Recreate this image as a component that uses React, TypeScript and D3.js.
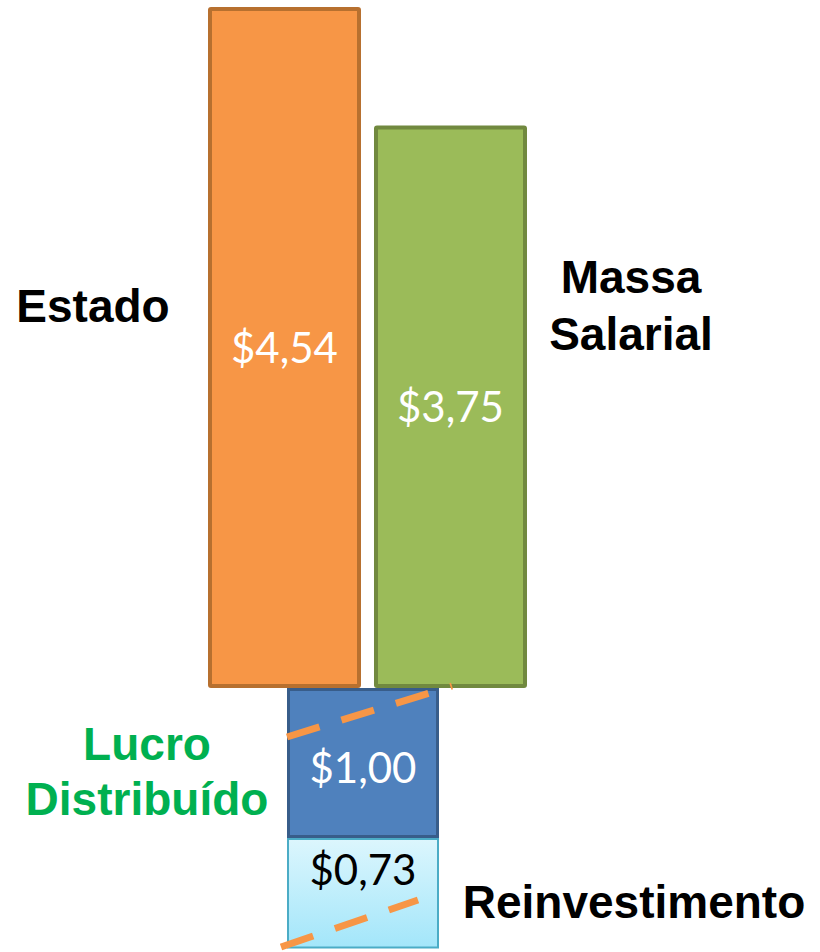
import React from "react";
import * as d3 from "d3";

// ---- data ----
const topCategories = ["Estado", "Massa Salarial"];
const topValues = [4.54, 3.75];
const topLabels = ["$4,54", "$3,75"];
const bottomCategories = ["Lucro Distribuído", "Reinvestimento"];
const bottomValues = [1.0, 0.73];
const bottomLabels = ["$1,00", "$0,73"];

const W = 820;
const H = 952;
const baseline = 688;

export default function App() {
  const y = d3.scaleLinear().domain([0, 5]).range([0, 750]); // length scale (px per unit)
  const xTop = d3
    .scaleBand<string>()
    .domain(topCategories)
    .range([208, 527])
    .paddingInner(0.0783)
    .paddingOuter(0);
  const bw = xTop.bandwidth();
  const xBottom = 287;
  const bwBottom = 152;

  const topFills = ["#F79646", "#9BBB59"];
  const topStrokes = ["#B7702F", "#71893F"];

  // bottom stack (downwards from baseline)
  let acc = 0;
  const bottomBars = bottomValues.map((v, i) => {
    const y0 = baseline + y(acc);
    acc += v;
    const y1 = baseline + y(acc);
    return { i, v, y0, y1 };
  });

  const labelFont = "'Liberation Sans', Arial, sans-serif";
  const valueFont = "Lato, 'Open Sans', sans-serif";

  return (
    <svg width={W} height={H} style={{ position: "absolute", left: 0, top: 0 }}>
      <defs>
        <linearGradient id="lb" x1="0" y1="0" x2="0" y2="1">
          <stop offset="0" stopColor="#DCF6FD" />
          <stop offset="1" stopColor="#A3E6FA" />
        </linearGradient>
      </defs>
      <rect width={W} height={H} fill="#fff" />
      {topValues.map((v, i) => {
        const x = xTop(topCategories[i])!;
        const h = y(v);
        return (
          <g key={i}>
            <rect
              x={x + 2}
              y={baseline - h + 2}
              width={bw - 4}
              height={h - 4}
              fill={topFills[i]}
              stroke={topStrokes[i]}
              strokeWidth={4}
              rx={1}
            />
          </g>
        );
      })}
      {bottomBars.map((b) => (
        <rect
          key={b.i}
          x={xBottom + (b.i === 0 ? 1.5 : 1)}
          y={b.y0 + (b.i === 0 ? 1.5 : 1)}
          width={bwBottom - (b.i === 0 ? 3 : 2)}
          height={b.y1 - b.y0 - (b.i === 0 ? 3 : 1)}
          fill={b.i === 0 ? "#4F81BD" : "url(#lb)"}
          stroke={b.i === 0 ? "#385D8A" : "#4BACC6"}
          strokeWidth={b.i === 0 ? 3 : 2}
        />
      ))}
      {/* dashed guide lines */}
      <line x1={287} y1={737} x2={452} y2={686} stroke="#F79646" strokeWidth={7} strokeDasharray="34 23" />
      <line x1={281} y1={947} x2={418} y2={900} stroke="#F79646" strokeWidth={7} strokeDasharray="34 23" />

      {/* value labels */}
      {topValues.map((v, i) => {
        const x = xTop(topCategories[i])! + bw / 2;
        const cy = baseline - y(v) / 2;
        return (
          <text key={i} x={x} y={cy + 15} textAnchor="middle" fill="#fff" fontFamily={valueFont} fontSize={42}>
            {topLabels[i]}
          </text>
        );
      })}
      <text x={xBottom + bwBottom / 2} y={783} textAnchor="middle" fill="#fff" fontFamily={valueFont} fontSize={42}>
        {bottomLabels[0]}
      </text>
      <text x={xBottom + bwBottom / 2} y={885} textAnchor="middle" fill="#000" fontFamily={valueFont} fontSize={42}>
        {bottomLabels[1]}
      </text>

      {/* category labels */}
      <text x={93} y={322} textAnchor="middle" fontFamily={labelFont} fontWeight="bold" fontSize={46} fill="#000">
        {topCategories[0]}
      </text>
      <text textAnchor="middle" fontFamily={labelFont} fontWeight="bold" fontSize={46} fill="#000">
        <tspan x={631} y={293}>{topCategories[1].split(" ")[0]}</tspan>
        <tspan x={631} y={350}>{topCategories[1].split(" ")[1]}</tspan>
      </text>
      <text textAnchor="middle" fontFamily={labelFont} fontWeight="bold" fontSize={46} fill="#00B050">
        <tspan x={147} y={760}>{bottomCategories[0].split(" ")[0]}</tspan>
        <tspan x={147} y={815}>{bottomCategories[0].split(" ")[1]}</tspan>
      </text>
      <text x={634} y={918} textAnchor="middle" fontFamily={labelFont} fontWeight="bold" fontSize={46} fill="#000">
        {bottomCategories[1]}
      </text>
    </svg>
  );
}
